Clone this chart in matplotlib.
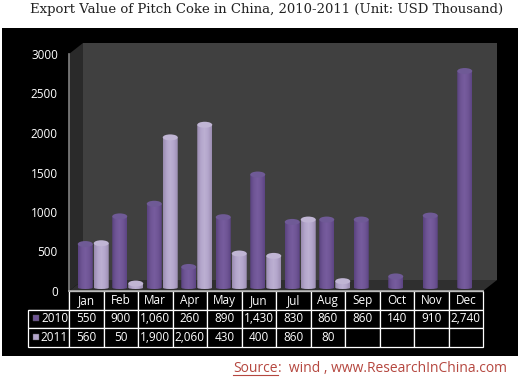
import numpy as np
import matplotlib
matplotlib.use("Agg")
import matplotlib.pyplot as plt
from matplotlib.colors import LinearSegmentedColormap
from matplotlib.patches import Ellipse, Polygon, Rectangle, PathPatch
from matplotlib.path import Path

months = ["Jan", "Feb", "Mar", "Apr", "May", "Jun", "Jul", "Aug", "Sep", "Oct", "Nov", "Dec"]
values_2010 = [550, 900, 1060, 260, 890, 1430, 830, 860, 860, 140, 910, 2740]
values_2011 = [560, 50, 1900, 2060, 430, 400, 860, 80, None, None, None, None]
y_ticks = [0, 500, 1000, 1500, 2000, 2500, 3000]

W, H = 519, 383
# front plane of the 3d box, in pixels
left, right, top, bottom = 69, 483, 54, 291
depth_x, depth_y = 14, 11

fig = plt.figure(figsize=(W / 100, H / 100), dpi=100, facecolor="white")
fig.add_artist(Rectangle((2 / W, 1 - 356 / H), 516 / W, 328 / H, transform=fig.transFigure,
                         facecolor="black", edgecolor="none", zorder=-5))
ax = fig.add_axes([left / W, 1 - bottom / H, (right - left) / W, (bottom - top) / H])
ax.patch.set_visible(False)
ax.set_xlim(0, 12)
ax.set_ylim(0, 3000)
for s in ax.spines.values():
    s.set_visible(False)

ux = 12 / (right - left)   # data units per pixel
uy = 3000 / (bottom - top)
dx, dy = depth_x * ux, depth_y * uy

# walls and floor
ax.add_patch(Polygon([(dx, dy), (12 + dx, dy), (12 + dx, 3000 + dy), (dx, 3000 + dy)],
                     facecolor="#404040", edgecolor="none", clip_on=False, zorder=1))
ax.add_patch(Polygon([(0, 0), (dx, dy), (dx, 3000 + dy), (0, 3000)],
                     facecolor="#2a2a2a", edgecolor="none", clip_on=False, zorder=1))
ax.add_patch(Polygon([(0, 0), (12, 0), (12 + dx, dy), (dx, dy)],
                     facecolor="#2f2f2f", edgecolor="none", clip_on=False, zorder=1))
ax.plot([0, 0], [0, 3000], color="#808080", lw=1.2, clip_on=False, zorder=2)
ax.plot([0, 12], [0, 0], color="#b0b0b0", lw=1.2, clip_on=False, zorder=2)

cm_2010 = LinearSegmentedColormap.from_list("c10", ["#5a4280", "#6f5595", "#775c9e", "#6f5595", "#5d4584"])
cm_2011 = LinearSegmentedColormap.from_list("c11", ["#9a8cb0", "#b3a5cb", "#bcb0d2", "#b3a5cb", "#9c8eb2"])
grad = np.linspace(0, 1, 64).reshape(1, -1)


def cylinder(x, value, cmap, cap):
    w = 15 * ux
    eh = 6 * uy
    y0, y1 = 3.5 * uy, 3.5 * uy + value
    k = 1.5 * uy
    xs = [x - w / 2, x + w / 2, x + w / 2, x + w / 2, x, x - w / 2, x - w / 2, x - w / 2]
    ys = [y1, y1, y0, y0 - k, y0 - k, y0 - k, y0, y1]
    path = Path(list(zip(xs, ys)), [Path.MOVETO, Path.LINETO, Path.LINETO, Path.CURVE3,
                                    Path.CURVE3, Path.CURVE3, Path.CURVE3, Path.CLOSEPOLY])
    clip = PathPatch(path, facecolor="none", edgecolor="none", transform=ax.transData)
    ax.add_patch(clip)
    im = ax.imshow(grad, cmap=cmap, aspect="auto", extent=(x - w / 2, x + w / 2, y0 - k, y1), zorder=4)
    im.set_clip_path(clip)
    ax.add_patch(Ellipse((x, y1), w, eh, facecolor=cap, edgecolor="none", zorder=5))


for i, (a, b) in enumerate(zip(values_2010, values_2011)):
    cylinder(i + 0.5 - 1 * ux, a, cm_2010, "#6f5a96")
    if b is not None:
        cylinder(i + 0.5 + 15 * ux, b, cm_2011, "#c0b5d4")
ax.set_xlim(0, 12)
ax.set_ylim(0, 3000)

ax.set_xticks([])
ax.set_yticks(y_ticks)
ax.set_yticklabels([str(t) for t in y_ticks], color="white", fontsize=8.5, family="Open Sans")
ax.tick_params(axis="y", length=0, pad=8)

# data table under the plot
rows = [[""] + months,
        ["2010"] + [f"{v:,}" for v in values_2010],
        ["2011"] + [f"{v:,}" if v is not None else "" for v in values_2011]]
x0 = (28 - left) / (right - left)
tw = (right - 28) / (right - left)
th = (347 - 291) / (bottom - top)
tab = ax.table(cellText=rows, colWidths=[41 / (right - 28)] + [34.5 / (right - 28)] * 12,
               bbox=[x0, -th, tw, th], cellLoc="center")
tab.auto_set_font_size(False)
for (r, c), cell in tab.get_celld().items():
    cell.set_facecolor("black")
    cell.set_edgecolor("white")
    cell.set_linewidth(0.9)
    cell.get_text().set_color("white")
    cell.get_text().set_fontsize(8.5)
    cell.get_text().set_family("Open Sans")
    if c == 0:
        cell.get_text().set_ha("right")
        cell.PAD = 0.02
    if r == 0 and c == 0:
        cell.visible_edges = "BR"

for ypx, col in [(318, "#6d5394"), (337, "#b3a5cb")]:
    fig.add_artist(Rectangle((32.5 / W, 1 - (ypx + 3) / H), 6 / W, 6 / H, transform=fig.transFigure,
                             facecolor=col, edgecolor="#555555", lw=0.3, zorder=5))

fig.text(267 / W, 1 - 9 / H, "Export Value of Pitch Coke in China, 2010-2011 (Unit: USD Thousand)",
         ha="center", va="center", fontsize=9.5, family="DejaVu Serif", color="#222222")

src_color = "#b5473f"
src = fig.text(233 / W, 1 - 372 / H, "Source", fontsize=10, family="Open Sans", color=src_color,
               va="baseline")
fig.canvas.draw()
ext = src.get_window_extent()
fig.text(ext.x1 / W, 1 - 372 / H, ":  wind , www.ResearchInChina.com", fontsize=10, family="Open Sans",
         color=src_color, va="baseline")
fig.add_artist(plt.Line2D([ext.x0 / W, ext.x1 / W], [1 - 375 / H, 1 - 375 / H], color=src_color, lw=0.8))

fig.savefig("out.png", dpi=100)
